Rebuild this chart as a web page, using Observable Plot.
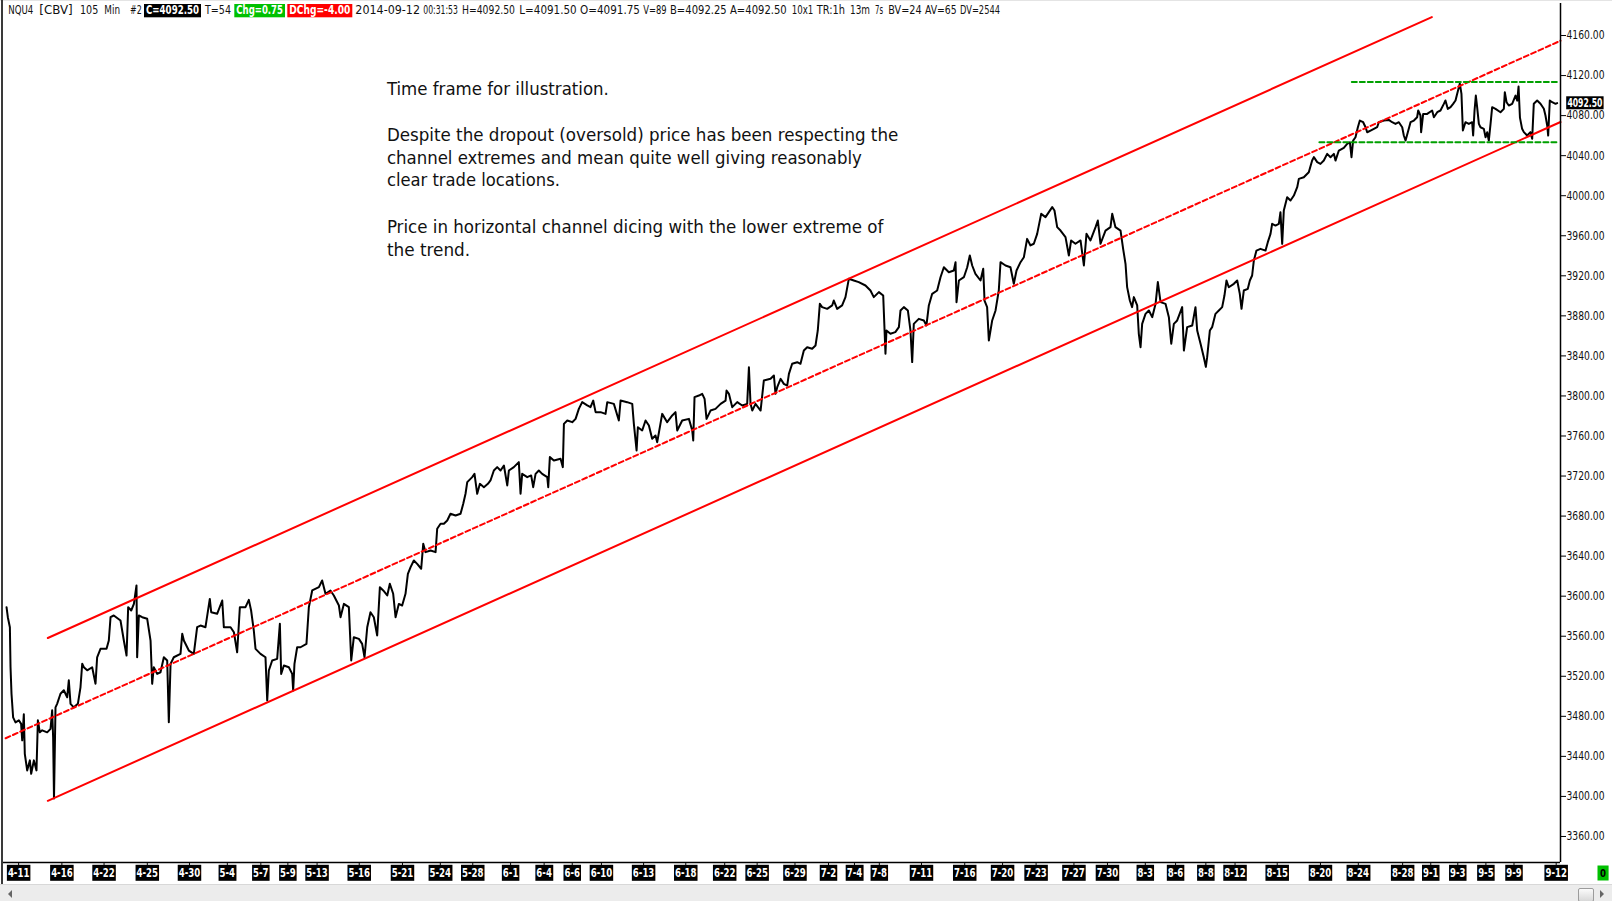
<!DOCTYPE html>
<html><head><meta charset="utf-8">
<script src="https://cdn.jsdelivr.net/npm/d3@7"></script>
<script src="https://cdn.jsdelivr.net/npm/@observablehq/plot@0.6"></script>
<style>
html,body{margin:0;padding:0;background:#fff;}
#page{position:relative;width:1612px;height:901px;overflow:hidden;background:#fff;}
#chart{position:absolute;left:0;top:0;}
#leftborder{position:absolute;left:1px;top:0;width:2px;height:884px;background:#3a3a3a;}
#topstrip{position:absolute;left:0;top:0;width:1612px;height:1px;background:#e4e4e4;}
#scroll{position:absolute;left:0;top:884px;width:1612px;height:17px;background:#ececec;border-top:1px solid #d8d8d8;box-sizing:border-box;}
#larrow{position:absolute;left:8px;top:5px;width:0;height:0;border-top:4px solid transparent;border-bottom:4px solid transparent;border-right:4px solid #666;}
#rarrow{position:absolute;left:1600px;top:5px;width:0;height:0;border-top:4px solid transparent;border-bottom:4px solid transparent;border-left:4px solid #666;}
#thumb{position:absolute;left:1578px;top:3px;width:14px;height:12px;background:linear-gradient(#fbfbfb,#d8d8d8);border:1px solid #9c9c9c;border-radius:2px;}
#overlay{position:absolute;left:0;top:0;pointer-events:none;}
</style>
</head>
<body>
<div id="page">
  <div id="chart"></div>
  <div id="topstrip"></div>
  <div id="leftborder"></div>
  <div id="scroll"><div id="larrow"></div><div id="thumb"></div><div id="rarrow"></div></div>
</div>
<script>
// ---------- DATA ----------
// price path: [bar index (105-min bars), price]
const pricePath = [
[2.8,3589],[4,3579],[5.9,3569],[6.5,3529],[7.4,3502.5],[8.9,3479],[11.1,3474],[14.2,3476],[16.3,3472.5],[17.3,3456],[18.8,3482],[19.7,3442.6],[21.9,3426],[24.4,3436],[25.6,3422.6],[28.1,3436],[30.5,3426],[31.8,3476],[33.6,3464],[35.8,3466],[40.4,3464],[43.5,3467.5],[45,3486],[45.9,3459],[46.7,3398],[48.1,3489],[49.6,3492.5],[52.7,3502.5],[55.8,3506],[58.9,3499],[60.4,3516],[62,3492.5],[65,3489],[68.8,3492.5],[71.2,3509],[72.8,3532.5],[74.3,3529],[77.4,3526],[82,3529],[85.1,3512.5],[86.6,3539],[89.7,3547.4],[95.3,3547.4],[97.4,3555.7],[99,3579],[102,3580.7],[108.2,3575.7],[111.3,3555.7],[113.8,3540.8],[115.3,3589],[118.1,3585.7],[120.6,3592.3],[123,3610.7],[123.6,3539],[125.2,3580.7],[128.3,3579],[132.9,3577.4],[136,3555.7],[137.5,3512.5],[139,3529],[142.1,3522.4],[145.2,3524],[148.3,3539],[151.4,3535.8],[152.9,3474],[154.5,3532.4],[157.5,3539],[163.7,3542.4],[165.3,3562.4],[166.8,3555.7],[171.4,3545.7],[176,3542.4],[179.1,3569],[182.2,3570.7],[186.8,3569],[190.8,3597.3],[192.1,3584],[197.6,3582.4],[202.3,3595.7],[203.8,3569],[210,3569],[213.1,3564],[216.1,3544],[218.6,3589],[223.8,3589],[226.9,3596.3],[229,3585.7],[231.5,3565.7],[233.1,3547.4],[237.7,3542.4],[242.3,3539],[243.9,3495.8],[245.4,3525.8],[248.5,3535.8],[253.1,3537.4],[255.6,3572.4],[256.8,3522.4],[259.3,3530.8],[263.9,3529],[267,3522.4],[267.9,3505.8],[269.1,3532.4],[271.6,3549],[274.7,3549],[280.2,3552.4],[282.4,3589],[285.5,3605.7],[291.7,3609],[294.7,3615.7],[297.8,3602.4],[302.4,3605.7],[305.5,3600.7],[310.2,3590.7],[311.7,3579],[314.8,3592.3],[319.4,3589],[321.6,3535.8],[324,3559],[328.7,3557.4],[331.7,3552.4],[333.9,3539],[336.4,3569],[339.4,3584],[342.5,3579],[345.6,3560.7],[348.1,3609],[351.2,3605.7],[354.9,3600.7],[357.3,3612.4],[360.4,3602.4],[362.6,3579],[365.6,3592.3],[368.7,3590.7],
[371.8,3602.4],[374,3622.4],[376.5,3629],[379.5,3635.7],[382.6,3632.3],[386.3,3627.4],[388.2,3652.3],[390.3,3644],[395,3645.7],[399.6,3644],[401.1,3667.3],[404.2,3672.3],[407.3,3672.3],[410.4,3675.6],[413.4,3682.3],[418.1,3680.6],[422.7,3682.3],[425.2,3692.3],[427.3,3702.3],[428.9,3713.9],[433.5,3718.9],[435.6,3722.2],[438.1,3702.3],[440.6,3712.2],[444.3,3708.9],[448,3712.2],[450.4,3715.6],[453.5,3725.5],[456.6,3728.9],[459.7,3725.5],[462.8,3730.5],[465.9,3710.6],[467.4,3725.5],[472,3728.9],[476.6,3733.9],[478.2,3702.3],[479.7,3722.2],[484.4,3718.9],[488,3720.6],[489.9,3708.9],[492.1,3722.2],[495.1,3725.5],[498.2,3722.2],[502.9,3718.9],[503.8,3708.9],[505.3,3738.9],[509,3735.5],[515.2,3737.2],[517.3,3728.9],[518.3,3772.1],[521.4,3775.5],[526,3773.8],[529.1,3777.1],[532.1,3787.1],[535.2,3793.8],[539.9,3790.5],[542.9,3788.8],[545.4,3795.4],[547.6,3783.8],[552.2,3783.8],[556.8,3782.1],[558.4,3793.8],[564.5,3792.1],[569.1,3775.5],[570.7,3795.4],[576.8,3793.8],[581.5,3792.1],[583,3772.1],[585.5,3745.5],[586.7,3768.8],[590.7,3765.5],[593.8,3775.5],[596.9,3770.5],[599.9,3757.2],[603,3760.5],[604.6,3753.8],[609.2,3782.1],[613.8,3773.8],[618.5,3780.5],[621.5,3783.8],[623.1,3765.5],[627.7,3775.5],[633.9,3777.1],[637,3765.5],[637.9,3755.5],[639.1,3798.8],[643.1,3800.4],[646.2,3802.1],[648.4,3797.1],[650.2,3777.1],[653.9,3785.4],[658.5,3787.1],[663.2,3792.1],[667.8,3795.4],[668.7,3805.4],[670.9,3802.1],[674,3788.8],[678.6,3793.8],[683.2,3790.5],[687.8,3792.1],[689.4,3828.7],[690.9,3792.1],[692.5,3785.4],[695.5,3792.1],[700.2,3785.4],[703.2,3815.4],[709.4,3817.1],[712.5,3820.4],[714,3802.1],[715.6,3808.8],[718.7,3817.1],[721.7,3812.1],[724.8,3810.4],[726.4,3822.1],[729.4,3832.1],[734.1,3833.7],
[737.1,3832.1],[740.2,3845.4],[743.3,3848.7],[747.9,3847.1],[751,3850.4],[753.1,3865.4],[755,3892],[757.1,3888.7],[761.8,3887],[766.4,3890.4],[767.9,3895.3],[771,3887],[775.6,3890.4],[778.7,3898.7],[781.8,3917],[786.4,3915.3],[791,3913.7],[797.2,3910.3],[801.8,3905.3],[804.9,3898.7],[809.6,3903.7],[813.6,3900.3],[815.7,3842.1],[816.6,3865.4],[820.3,3862.1],[824.8,3863.7],[828.1,3868.7],[829.6,3885.4],[832.7,3888.7],[836.4,3885.4],[838.8,3865.4],[840.4,3833.8],[841.9,3872],[846.5,3877],[851.2,3875.4],[853.6,3870.4],[855.8,3890.4],[858.9,3902],[863.5,3905.3],[866.6,3918.6],[869.7,3928.6],[874.3,3923.6],[878.9,3925.3],[880.5,3933.6],[881.4,3893.7],[883.6,3915.3],[888.2,3918.6],[891.3,3928.6],[893.7,3940.3],[895.9,3930.3],[898.9,3922],[903.6,3915.3],[906.1,3927],[907.3,3895.3],[909.7,3888.7],[911.3,3855.4],[914.4,3875.4],[917.5,3885.4],[920.5,3905.3],[922.1,3933.6],[926.7,3930.3],[931.3,3928.6],[934.4,3912],[936.9,3925.3],[940.6,3933.6],[943.7,3938.6],[946.7,3956.9],[949.8,3950.3],[952.9,3952],[956,3961.9],[959.7,3981.9],[963.7,3978.6],[966.8,3983.6],[969.9,3988.6],[972,3985.2],[974.5,3968.6],[977.6,3965.2],[982.2,3958.6],[985.3,3940.3],[987.4,3955.3],[991.4,3952],[996.1,3955.3],[999.2,3930.3],[1001.6,3961.9],[1005.3,3955.3],[1010,3968.6],[1012.1,3975.2],[1014.6,3952],[1019.2,3965.2],[1023.8,3968.6],[1025.4,3981.9],[1028.4,3968.6],[1033.1,3965.2],[1035.5,3947],[1037.7,3932],[1039.2,3908.7],[1041.7,3895.3],[1043.8,3888.7],[1045.4,3898.7],[1048.5,3890.4],[1050,3862.1],[1051.6,3848.7],[1053.1,3872],[1056.2,3882],[1059.3,3885.4],[1062.4,3878.7],[1065.5,3892],[1067.6,3913.7],[1070.1,3893.7],[1074.7,3892],[1077.8,3878.7],[1080,3852.1],[1082.4,3872],[1085.5,3875.4],[1090.1,3888.7],[1091.7,3845.4],[1094.7,3868.7],[1099.4,3870.4],[1102.4,3888.7],[1104,3865.4],[1107.1,3852.1],
[1110.1,3838.7],[1112,3829],[1113.2,3838.7],[1115.7,3865.3],[1117.8,3868.7],[1120.9,3882],[1124,3885.3],[1127.1,3888.7],[1129.2,3900.3],[1131.1,3915.3],[1133.2,3908.6],[1137.9,3912],[1141,3915.3],[1143.4,3902],[1145,3887],[1147.1,3905.3],[1150.8,3907],[1152.7,3915.3],[1154.8,3920.3],[1156.4,3935.3],[1158.8,3945.2],[1162.5,3946.9],[1167.2,3945.2],[1169.3,3953.6],[1171.8,3961.9],[1173.3,3971.9],[1176.4,3970.2],[1179.5,3971.9],[1181,3983.5],[1182.6,3951.9],[1184.1,3985.2],[1187.2,3998.5],[1190.3,3995.2],[1193.4,4000.2],[1196.5,4008.5],[1198,4016.8],[1202.6,4018.5],[1207.2,4023.5],[1210.3,4035.1],[1211.9,4038.5],[1215,4033.5],[1218,4031.8],[1221.1,4035.1],[1224.2,4041.8],[1227.3,4038.5],[1230.4,4041.8],[1231.9,4035.1],[1235,4045.1],[1239.6,4047.8],[1242.7,4051.8],[1245.2,4053.4],[1246.7,4038.5],[1248.2,4055.1],[1250.4,4058.4],[1252.6,4068.4],[1254.4,4075.1],[1257.5,4073.4],[1259.7,4068.4],[1261.2,4063.4],[1264.3,4065.1],[1267.4,4066.8],[1270.4,4068.4],[1272,4073.4],[1276.6,4075.1],[1281.2,4075.7],[1284.3,4073.4],[1287.4,4071.7],[1290.5,4073.4],[1293.6,4068.4],[1295.1,4060.1],[1296.7,4055.1],[1298.8,4063.4],[1301.3,4073.4],[1304.4,4075.1],[1307.4,4078.4],[1308.4,4085.1],[1310.5,4080.1],[1311.1,4063.4],[1313,4081.7],[1316.7,4081.7],[1321.3,4085.1],[1322.9,4078.4],[1326,4083.4],[1329,4085.1],[1332.1,4091.7],[1333.6,4095.1],[1335.8,4086.7],[1338.3,4088.4],[1340.7,4091.7],[1342.9,4095.1],[1344.4,4101.7],[1346,4108.4],[1346.9,4112],[1348.4,4101.7],[1349.7,4065.1],[1352.1,4073.4],[1355.2,4071.7],[1358.3,4073.4],[1359.2,4060.1],[1360.5,4085.1],[1361.7,4100],[1362.9,4088.4],[1364.5,4071.7],[1366,4068.4],[1369.1,4066.8],[1370.7,4058.4],[1372.2,4063.4],[1373.7,4055.1],[1375.3,4071.7],[1376.8,4088.4],[1379.9,4086.7],[1384.5,4083.4],[1387.6,4086.7],[1388.5,4103.4],[1390.1,4093.4],[1392.2,4090.1],[1395.3,4091.7],[1398.4,4100],[1400,4095],[1401.2,4109],[1402.5,4078],[1404.5,4066.8],[1406.1,4063.5],[1409.2,4060.1],[1412.2,4063.5],[1413.8,4056.8],[1415.3,4091.8],[1418.4,4095.1],[1421.5,4091.8],[1424.6,4086.8],[1426.1,4080.1],[1427.7,4070.1],[1428.6,4060.1],[1430.1,4095.1],[1432.3,4093.4],[1435.4,4091.8],[1436.9,4092.5]
];
const lastPrice = 4092.50;

// channel (trend) lines: endpoints
const upperBars = [41, 1321],  upperPrices = [3558.2, 4178.4];
const meanBars  = [2, 1440],   meanPrices  = [3458.1, 4154.8];
const lowerBars = [41, 1440],  lowerPrices = [3395.6, 4073.6];
// horizontal range lines
const rangeHighBars = [1247, 1437], rangeHighPrice = 4113.5;
const rangeLowBars  = [1217, 1437], rangeLowPrice  = 4053.5;

// axes
const yTicks = [3360,3400,3440,3480,3520,3560,3600,3640,3680,3720,3760,3800,3840,3880,3920,3960,4000,4040,4080,4120,4160];
const xTickBars = [14,54,93,133,172,207,238,263,290,329,369,404,434,469,500,526,553,592,631,667,697,732,763,787,810,849,889,924,955,990,1021,1056,1084,1112,1139,1178,1218,1253,1294,1320,1345,1371,1397,1436];
const xTickLabels = ["4-11","4-16","4-22","4-25","4-30","5-4","5-7","5-9","5-13","5-16","5-21","5-24","5-28","6-1","6-4","6-6","6-10","6-13","6-18","6-22","6-25","6-29","7-2","7-4","7-8","7-11","7-16","7-20","7-23","7-27","7-30","8-3","8-6","8-8","8-12","8-15","8-20","8-24","8-28","9-1","9-3","9-5","9-9","9-12"];

// header words: [text, x, width]
const headerWords = [["NQU4",8.3,25],["[CBV]",39.3,33.4],["105",80,18.3],["Min",104.3,15.7],["#2",130,11.7],["T=54",205,26],["2014-09-12",355.3,64.7],["00:31:53",423.3,34.5],["H=4092.50",462,53],["L=4091.50",519.3,57.4],["O=4091.75",580,60],["V=89",643.3,23.4],["B=4092.25",670,56.7],["A=4092.50",730,56.7],["10x1",791.7,21.6],["TR:1h",816.7,28.3],["13m",850,20],["7s",875,8],["BV=24",888.3,33.4],["AV=65",925,31.7],["DV=2544",960,40]];
// header boxes: [text, x0, x1, colour]
const headerBoxes = [["C=4092.50",144,201,"#000000"],["Chg=0.75",234.3,285,"#00c000"],["DChg=-4.00",287.3,352.3,"#ff0000"]];

// annotation: [text, baseline y, width]
const noteLines = [
  ["Time frame for illustration.", 94.5, 222],
  ["Despite the dropout (oversold) price has been respecting the", 141.2, 511.4],
  ["channel extremes and mean quite well giving reasonably", 163.8, 475],
  ["clear trade locations.", 186.4, 173],
  ["Price in horizontal channel dicing with the lower extreme of", 233, 496.5],
  ["the trend.", 255.6, 83.3]
];

// ---------- CHART ----------
const FONT = "'DejaVu Sans Condensed','DejaVu Sans',Verdana,sans-serif";
const series = pricePath.map(([bar, price]) => ({bar, price}));
const seg = (bars, prices) => bars.map((b, i) => ({bar: b, price: Array.isArray(prices) ? prices[i] : prices}));

const chart = Plot.plot({
  width: 1612, height: 884,
  marginLeft: 3, marginRight: 52, marginTop: 19, marginBottom: 22,
  x: {domain: [0, 1440], axis: null, label: null},
  y: {domain: [3334, 4176], axis: null, label: null},
  style: {background: "transparent", fontFamily: FONT, color: "#1a1a1a", overflow: "visible"},
  marks: [
    Plot.line(series, {x: "bar", y: "price", stroke: "#000", strokeWidth: 2, strokeLinejoin: "round"}),
    Plot.line(seg(upperBars, upperPrices), {x: "bar", y: "price", stroke: "#ff0000", strokeWidth: 2}),
    Plot.line(seg(meanBars, meanPrices), {x: "bar", y: "price", stroke: "#ff0000", strokeWidth: 2, strokeDasharray: "5,3"}),
    Plot.line(seg(lowerBars, lowerPrices), {x: "bar", y: "price", stroke: "#ff0000", strokeWidth: 2}),
    Plot.line(seg(rangeHighBars, rangeHighPrice), {x: "bar", y: "price", stroke: "#00a000", strokeWidth: 2, strokeDasharray: "5,3"}),
    Plot.line(seg(rangeLowBars, rangeLowPrice), {x: "bar", y: "price", stroke: "#00a000", strokeWidth: 2, strokeDasharray: "5,3"}),
    Plot.ruleY([3334], {stroke: "#000", strokeWidth: 1.5}),
    Plot.ruleX([1440], {stroke: "#000", strokeWidth: 1.5, insetTop: -16}),
    Plot.axisY(yTicks, {anchor: "right", label: null, tickSize: 5, tickPadding: 1, tickFormat: d => d.toFixed(2), fontSize: 12, stroke: "#000", fill: "#111"}),
    Plot.axisX(xTickBars, {anchor: "bottom", label: null, tickSize: 4, tickFormat: () => "", stroke: "#000"}),
    Plot.text(xTickBars, {x: d => d, text: (d, i) => xTickLabels[i], frameAnchor: "bottom", dy: 14.3, fill: "#fff", fontWeight: "bold", fontSize: 12, fontFamily: FONT}),
    Plot.text([lastPrice], {y: d => d, text: d => d.toFixed(2), frameAnchor: "right", textAnchor: "middle", dx: 24.4, fill: "#fff", fontWeight: "bold", fontSize: 11.5, fontFamily: FONT}),
    Plot.text([0], {text: d => String(d), frameAnchor: "bottom-right", textAnchor: "middle", dx: 42.5, dy: 14, fill: "#000", fontWeight: "bold", fontSize: 11, fontFamily: FONT})
  ]
});
document.getElementById("chart").appendChild(chart);

// put boxes behind bold label texts
function boxText(t, fill, padX, h, len) {
  if (len) { t.setAttribute("textLength", len); t.setAttribute("lengthAdjust", "spacingAndGlyphs"); }
  const bb = t.getBBox();
  const r = document.createElementNS("http://www.w3.org/2000/svg", "rect");
  r.setAttribute("x", bb.x - padX);
  r.setAttribute("width", bb.width + 2 * padX);
  r.setAttribute("y", bb.y + bb.height / 2 - h / 2);
  r.setAttribute("height", h);
  r.setAttribute("fill", fill);
  const tr = t.getAttribute("transform");
  if (tr) r.setAttribute("transform", tr);
  t.parentNode.insertBefore(r, t);
}
const labelLen = s => [...s].reduce((a, c) => a + (c === "-" ? 3.5 : 6), 0);
const labelSet = new Set(xTickLabels);
const boldTexts = [...chart.querySelectorAll("text")].filter(t => {
  const g = t.closest("g");
  return g && g.getAttribute("font-weight") === "bold";
});
boldTexts.forEach(t => {
  const s = t.textContent;
  if (labelSet.has(s)) boxText(t, "#000", 1, 16, labelLen(s));
  else if (s === lastPrice.toFixed(2)) boxText(t, "#000", 1.2, 13, 35);
  else if (s === "0") boxText(t, "#00c000", 2.5, 15, 6);
});
chart.querySelectorAll('g[aria-label="y-axis tick label"] text').forEach(t => {
  t.setAttribute("textLength", 38); t.setAttribute("lengthAdjust", "spacingAndGlyphs");
});

// ---------- OVERLAY: header + annotation ----------
const ov = d3.select("#page").append("svg").attr("id", "overlay").attr("width", 1612).attr("height", 901);
const hdr = ov.append("g").attr("font-family", FONT).attr("font-size", 12);
headerBoxes.forEach(([t, x0, x1, c]) => {
  hdr.append("rect").attr("x", x0).attr("y", 4).attr("width", x1 - x0).attr("height", 13.3).attr("fill", c);
  hdr.append("text").attr("x", x0 + 2).attr("y", 14.3).attr("fill", "#fff").attr("font-weight", "bold")
    .attr("textLength", x1 - x0 - 4).attr("lengthAdjust", "spacingAndGlyphs").text(t);
});
headerWords.forEach(([t, x, w]) => {
  hdr.append("text").attr("x", x).attr("y", 14).attr("fill", "#111")
    .attr("textLength", w).attr("lengthAdjust", "spacingAndGlyphs").text(t);
});
const note = ov.append("g").attr("font-family", FONT).attr("font-size", 18.3).attr("fill", "#111");
noteLines.forEach(([t, y, w]) => {
  note.append("text").attr("x", 386.9).attr("y", y)
    .attr("textLength", w).attr("lengthAdjust", "spacingAndGlyphs").text(t);
});
</script>
</body></html>
